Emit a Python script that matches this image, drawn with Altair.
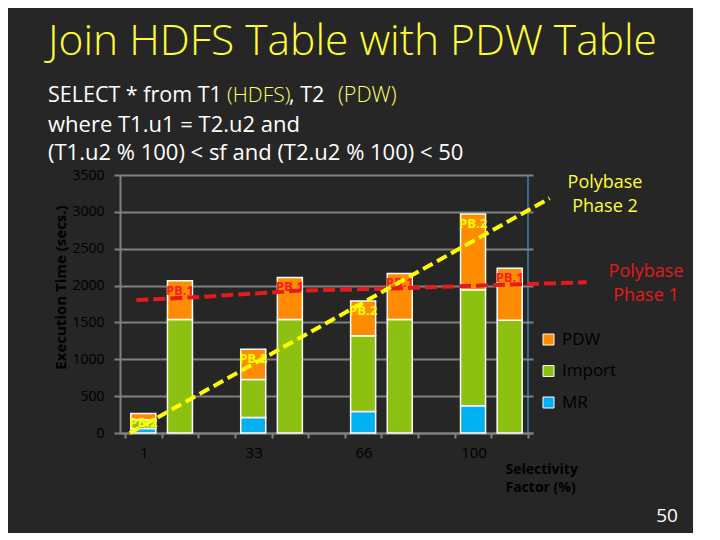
import json
import altair as alt
import pandas as pd

# ---- data ----
sf_labels = ["1", "33", "66", "100"]
mr_pb2 = [60, 210, 290, 370]
import_pb2 = [120, 515, 1030, 1575]
pdw_pb2 = [85, 410, 470, 1025]
import_pb1 = [1540, 1540, 1540, 1530]
pdw_pb1 = [525, 570, 625, 705]
components = ["PDW", "Import", "MR"]
comp_colors = ["#FF8C00", "#8CC011", "#00B0F0"]
phase_names = ["PB.2", "PB.1"]

# hand-drawn trend lines (data units)
phase1_x = [0.31, 2.13, 4.79, 7.46, 10.04, 12.6]
phase1_y = [1803, 1848, 1932, 1962, 2007, 2044]
phase2_x = [0.13, 11.59]
phase2_y = [0, 3184]

y_ticks = [0, 500, 1000, 1500, 2000, 2500, 3000, 3500]
n_slots = 3 * len(sf_labels) - 1

# ---- build tables ----
bar_rows, label_rows = [], []
for i, sf in enumerate(sf_labels):
    stacks = {
        "PB.2": [("MR", mr_pb2[i]), ("Import", import_pb2[i]), ("PDW", pdw_pb2[i])],
        "PB.1": [("Import", import_pb1[i]), ("PDW", pdw_pb1[i])],
    }
    for j, ph in enumerate(phase_names):
        center = 3 * i + j + 0.5
        base = 0
        for comp, v in stacks[ph]:
            bar_rows.append({"center": center, "component": comp, "y0": base, "y1": base + v})
            base += v
        label_rows.append({"center": center, "total": base, "phase": ph})
bars_df = pd.DataFrame(bar_rows)
labels_df = pd.DataFrame(label_rows)
p1_df = pd.DataFrame({"x": phase1_x, "y": phase1_y})
p2_df = pd.DataFrame({"x": phase2_x, "y": phase2_y})
one = pd.DataFrame({"n": [0]})

tick_label_arr = [""] * (n_slots + 1)
for i, sf in enumerate(sf_labels):
    tick_label_arr[3 * i] = sf

W, H = 413, 258
step = W / n_slots
DARK = "#000000"
GRID = "#808080"
FONT = "Open Sans"

xs = alt.Scale(domain=[0, n_slots], nice=False, zero=False)
ys = alt.Scale(domain=[0, 3500], nice=False)

x_axis = alt.Axis(
    values=list(range(n_slots + 1)),
    labelExpr=json.dumps(tick_label_arr) + "[datum.value]",
    labelOffset=step / 2, labelFlush=False, labelOverlap=False,
    labelFontSize=15, labelColor=DARK, labelFont=FONT, labelPadding=7,
    tickSize=5, tickColor=GRID, tickWidth=2,
    domainColor=GRID, domainWidth=2, grid=False,
    title=["Selectivity", "Factor (%)"], titleX=385, titleY=40,
    titleAlign="left", titleBaseline="alphabetic", titleFontSize=14,
    titleFontWeight="bold", titleColor=DARK, titleFont=FONT, titleLineHeight=18,
)
y_axis = alt.Axis(
    values=y_ticks, format="d", labelOverlap=False, labelFlush=False,
    grid=True, gridColor=GRID, gridWidth=2,
    domainColor=GRID, domainWidth=2, tickColor=GRID, tickWidth=2, tickSize=6,
    labelFontSize=14, labelColor=DARK, labelFont=FONT, labelPadding=10,
    title="Execution Time (secs.)", titleFontSize=15, titleFontWeight="bold",
    titleColor=DARK, titleFont=FONT, titleAngle=270, titleX=-60, titleY=112,
    titleAlign="center", titleBaseline="middle",
)


def X(field):
    return alt.X(field, scale=xs, axis=x_axis)


def Y(field):
    return alt.Y(field, scale=ys, axis=y_axis)


bars = alt.Chart(bars_df).mark_bar(width=25, stroke="white", strokeWidth=1.5).encode(
    x=X("center:Q"),
    y=Y("y0:Q"),
    y2="y1:Q",
    color=alt.Color(
        "component:N",
        scale=alt.Scale(domain=components, range=comp_colors),
        legend=alt.Legend(
            title=None, orient="none", legendX=420, legendY=156, padding=0,
            symbolType="square", symbolSize=121, symbolStrokeColor="white",
            symbolStrokeWidth=1, symbolOpacity=1, labelFontSize=17, labelColor=DARK,
            labelFont=FONT, labelOffset=5, rowPadding=13.5,
        ),
    ),
)

edge = alt.Chart(one).mark_rule(color="#3C9FD0", strokeWidth=1.2).encode(
    x=alt.datum(n_slots, scale=xs, axis=x_axis),
    y=alt.datum(0, scale=ys, axis=y_axis),
    y2=alt.datum(3500),
)


def bar_labels(ph, color):
    return alt.Chart(labels_df).transform_filter(alt.datum.phase == ph).mark_text(
        fontSize=13, fontWeight="bold", font=FONT, color=color, dy=10, baseline="middle"
    ).encode(x=X("center:Q"), y=Y("total:Q"), text="phase:N")


line1 = alt.Chart(p1_df).mark_line(
    color="#E41A1C", strokeWidth=4, strokeDash=[12, 5], clip=False
).encode(x=X("x:Q"), y=Y("y:Q"))
line2 = alt.Chart(p2_df).mark_line(
    color="#FFFF00", strokeWidth=4, strokeDash=[11, 5], clip=False
).encode(x=X("x:Q"), y=Y("y:Q"))


def note(text, x, y, size, color, align="left", weight="normal"):
    return alt.Chart(one).mark_text(
        text=text, fontSize=size, color=color, align=align, baseline="alphabetic",
        font=FONT, fontWeight=weight,
    ).encode(x=alt.value(x), y=alt.value(y))


YEL = "#FFFF33"
notes = [
    note("Join HDFS Table with PDW Table", -72, -120, 42.5, YEL, weight=300),
    note("SELECT * from T1", -72, -73, 21.5, "white"),
    note("(HDFS)", 107, -73, 21, "#FFFF66", weight=300),
    note(", T2", 169, -73, 21.5, "white"),
    note("(PDW)", 218, -73, 21.5, "#FFFF66", weight=300),
    note("where T1.u1 = T2.u2 and", -72, -43, 22, "white"),
    note("(T1.u2 % 100) < sf and (T2.u2 % 100) < 50", -72, -15, 22, "white"),
    note("Polybase", 485, 13, 18, YEL, align="center"),
    note("Phase 2", 485, 37, 18, YEL, align="center"),
    note("Polybase", 526, 102, 18, "#E41A1C", align="center"),
    note("Phase 1", 526, 126, 18, "#E41A1C", align="center"),
    note("50", 547, 347, 19, "white", align="center"),
]

chart = alt.layer(
    bars, edge, bar_labels("PB.2", "#FFFF00"), bar_labels("PB.1", "#FF1A1A"),
    line1, line2, *notes,
).properties(
    width=W, height=H,
    autosize=alt.AutoSizeParams(type="none"),
    padding={"left": 112, "top": 167, "right": 160, "bottom": 100},
    background="#262626",
).configure_view(stroke=None)

chart.save("out.html", embed_options={"renderer": "svg", "actions": False})
